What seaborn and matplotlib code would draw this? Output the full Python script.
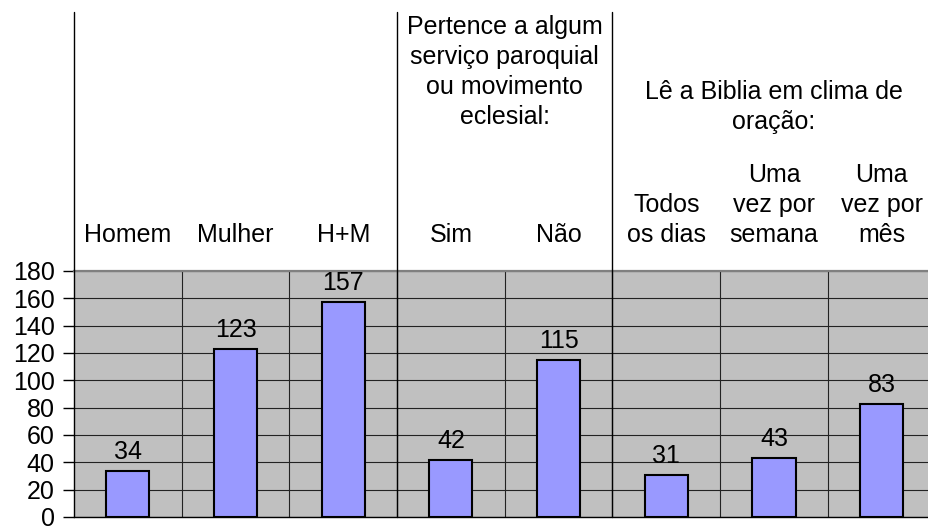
import matplotlib
matplotlib.use("Agg")
import matplotlib.pyplot as plt
import matplotlib.transforms as mtransforms
import numpy as np
import pandas as pd
import seaborn as sns

# ---- data ----
categories = ["Homem", "Mulher", "H+M", "Sim", "Não",
              "Todos\nos dias", "Uma\nvez por\nsemana", "Uma\nvez por\nmês"]
values = [34, 123, 157, 42, 115, 31, 43, 83]
group_titles = ["",
                "Pertence a algum\nserviço paroquial\nou movimento\neclesial:",
                "Lê a Biblia em clima de\noração:"]
group_sizes = [3, 2, 3]
y_ticks = [0, 20, 40, 60, 80, 100, 120, 140, 160, 180]

# ---- style ----
sns.set_theme(style="white")
plt.rcParams['font.family'] = ['Liberation Sans', 'DejaVu Sans']
FS = 18
LS = 1.31

W, H = 929, 526
fig = plt.figure(figsize=(W / 100, H / 100), dpi=100)
fig.patch.set_facecolor("white")
left_px, right_px, top_px, bottom_px = 74, 935.5, 271, 517
ax = fig.add_axes([left_px / W, 1 - bottom_px / H,
                   (right_px - left_px) / W, (bottom_px - top_px) / H])

df = pd.DataFrame({"cat": categories, "val": values})
sns.barplot(data=df, x="cat", y="val", color="#9999ff", saturation=1,
            edgecolor="black", linewidth=1.5, width=0.4, ax=ax, zorder=3)

n = len(categories)
ax.set_facecolor("#c0c0c0")
ax.set_xlim(-0.5, n - 0.5)
ax.set_ylim(0, 180)
ax.set_xlabel("")
ax.set_ylabel("")

# horizontal grid
ax.set_yticks(y_ticks)
ax.set_yticklabels([str(t) for t in y_ticks], fontsize=FS, color="black")
ax.tick_params(axis="y", length=8, width=1, color="black", pad=6, left=True)
ax.yaxis.grid(True, color="#222222", lw=0.8)
ax.set_axisbelow(True)

# vertical separators between categories
for i in range(1, n):
    ax.axvline(i - 0.5, color="#222222", lw=0.8, zorder=1)

# spines
ax.spines["top"].set_color("#808080")
ax.spines["top"].set_linewidth(1.6)
ax.spines["right"].set_visible(False)
ax.spines["bottom"].set_color("black")
ax.spines["bottom"].set_linewidth(1.0)
ax.spines["left"].set_visible(False)

# category labels above the plot
ax.xaxis.tick_top()
ax.set_xticks(range(n))
ax.set_xticklabels(categories, fontsize=FS, linespacing=LS, color="black")
ax.tick_params(axis="x", length=0, pad=17.5)

# group dividers extending above
line_top_frac = (bottom_px - 12) / (bottom_px - top_px)
bounds = np.concatenate([[0], np.cumsum(group_sizes)]) - 0.5
for b in bounds[:-1]:
    ax.axvline(b, ymin=0, ymax=line_top_frac, color="black", lw=1.0,
               clip_on=False, zorder=4)

# group titles (last-line baseline positions, in pixels from top)
title_baseline_px = [None, 124, 129]
trans = mtransforms.blended_transform_factory(ax.transData, ax.transAxes)
for k, title in enumerate(group_titles):
    if not title:
        continue
    cx = (bounds[k] + bounds[k + 1]) / 2
    yf = (bottom_px - title_baseline_px[k]) / (bottom_px - top_px)
    ax.text(cx, yf, title, transform=trans, ha="center", va="baseline",
            fontsize=FS, linespacing=LS, color="black")

# value labels
ax.bar_label(ax.containers[0], labels=[str(v) for v in values],
             padding=5, fontsize=FS, color="black")

fig.savefig("out.png", dpi=100)
